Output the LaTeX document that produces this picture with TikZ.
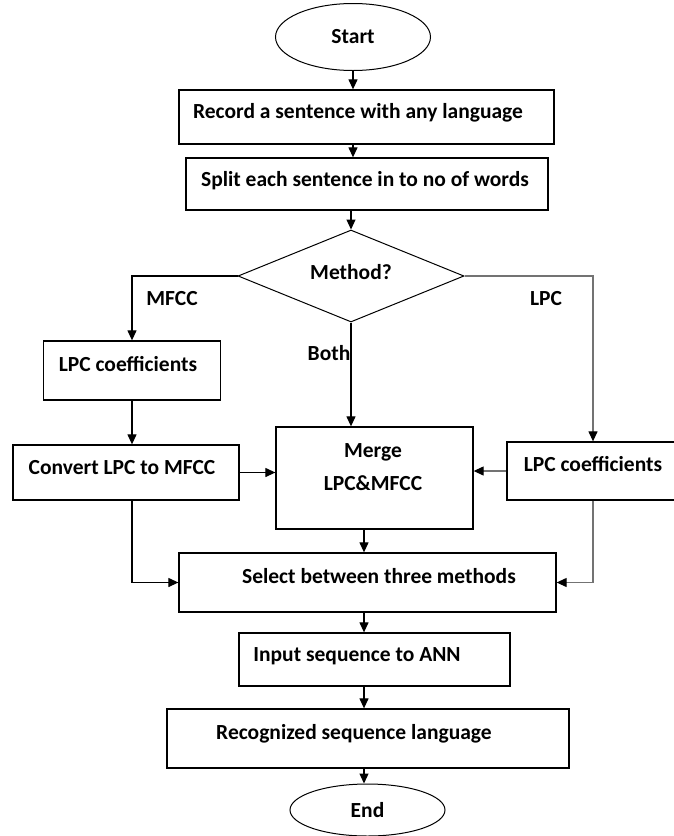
\documentclass[tikz,border=0pt]{standalone}
\usepackage{fontspec}
\setmainfont{Carlito}
\usetikzlibrary{shapes.geometric,arrows.meta}

\begin{document}
\begin{tikzpicture}[x=1pt, y=-1pt, >={Triangle[width=9pt,length=10pt]},
  box node/.style={draw, line width=1.3pt, inner sep=0pt},
  end node/.style={ellipse, draw, line width=1pt, minimum width=155pt, inner sep=0pt,
    font=\fontsize{21.5}{26}\selectfont\bfseries},
  text node/.style={font=\fontsize{21.5}{33}\selectfont\bfseries, align=center, inner sep=0pt},
  line/.style={->, line width=1.2pt},
  grey line/.style={-{Triangle[width=9pt,length=10pt,color=black]}, line width=1.2pt, draw=black!55}]
  \useasboundingbox (0,0) rectangle (674,836);
  \coordinate (axis) at (364,0);

  % terminals and decision
  \node[end node, minimum height=67pt] (start) at (353,37) {Start};
  \node[end node, minimum height=52pt] (end) at (367.5,810) {End};
  \node[diamond, draw, line width=1pt, minimum width=226pt, minimum height=92pt,
    inner sep=0pt] (method) at (351,276) {};

  % process boxes
  \node[box node, minimum width=375pt, minimum height=54pt] (record) at (366.5,117) {};
  \node[box node, minimum width=362pt, minimum height=52pt] (split) at (367,184) {};
  \node[box node, minimum width=177pt, minimum height=59pt] (lpcleft) at (132,370.5) {};
  \node[box node, minimum width=226pt, minimum height=55pt] (convert) at (126,472.5) {};
  \node[box node, minimum width=197pt, minimum height=102pt] (merge) at (374.5,478) {};
  \node[box node, minimum width=172pt, minimum height=58pt] (lpcright) at (593,471) {};
  \node[box node, minimum width=377pt, minimum height=59pt] (select) at (367.5,582.5) {};
  \node[box node, minimum width=271pt, minimum height=53pt] (input) at (374.5,659.5) {};
  \node[box node, minimum width=402pt, minimum height=59pt] (recog) at (368,738.5) {};

  % box texts
  \node[text node] (methodtext) at (351,272) {Method?};
  \node[text node] (recordtext) at (358,113) {Record a sentence with any language};
  \node[text node] (splittext) at (365,181) {Split each sentence in to no of words};
  \node[text node] (lpclefttext) at (128,364) {LPC coefficients};
  \node[text node] (converttext) at (122,468) {Convert LPC to MFCC};
  \node[text node] (mergetext) at (373,467) {Merge\\LPC\&MFCC};
  \node[text node] (lpcrighttext) at (593,464) {LPC coefficients};
  \node[text node] (selecttext) at (379,576) {Select between three methods};
  \node[text node] (inputtext) at (357,656) {Input sequence to ANN};
  \node[text node] (recogtext) at (354,734) {Recognized sequence language};

  % branch labels
  \node[text node] (mfcclabel) at (172,299) {MFCC};
  \node[text node] (lpclabel) at (546,299) {LPC};
  \node[text node] (bothlabel) at (329,353) {Both};

  % connectors
  \draw[line] (start.south) -- (start.south |- record.north);
  \draw[line] (record.south -| start.south) -- (start.south |- split.north);
  \draw[line] (split.south -| method.north) -- (method.north);
  \draw[line] (method.west) -| (lpcleft.north);
  \draw[line] (method.south) -- (method.south |- merge.north);
  \draw[grey line] (method.east) -| (lpcright.north);
  \draw[line] (lpcleft.south) -- (lpcleft.south |- convert.north);
  \draw[line] (convert.east) -- (convert.east -| merge.west);
  \draw[grey line] (lpcright.west) -- (lpcright.west -| merge.east);
  \draw[line] (lpcleft.south |- convert.south) |- (select.west);
  \draw[grey line] (lpcright.south) |- (select.east);
  \draw[line] (merge.south -| axis) -- (select.north -| axis);
  \draw[line] (select.south -| axis) -- (input.north -| axis);
  \draw[line] (input.south -| axis) -- (recog.north -| axis);
  \draw[line] (recog.south -| axis) -- (end.north -| axis);
\end{tikzpicture}
\end{document}
